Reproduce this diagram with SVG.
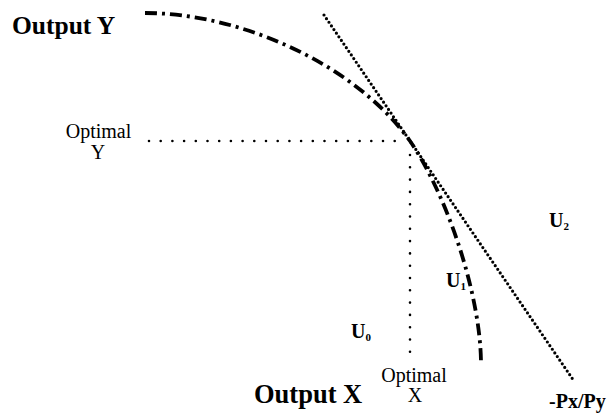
<svg xmlns="http://www.w3.org/2000/svg" width="609" height="414" viewBox="0 0 609 414">
<style>
.t{font-family:"Liberation Serif","Times New Roman",serif;fill:#000}
.b{font-weight:bold}
.curve{fill:none;stroke:#000;stroke-width:3.8;stroke-dasharray:12 5 3 5}
.budget{fill:none;stroke:#000;stroke-width:3.2;stroke-linecap:round;stroke-dasharray:0 4.4}
.guide{fill:none;stroke:#000;stroke-width:2.6;stroke-linecap:round;stroke-dasharray:0 11.7}
</style>
<rect width="609" height="414" fill="#fff"/>
<g id="connectors">
<path id="ppf" class="curve" d="M145,13 C240,13 355,64 410,141 C445,192 480,290 481,362"/>
<path id="budget-line" class="budget" d="M324,15 L574,381"/>
<path id="opt-y-line" class="guide" d="M149,141 L402,141"/>
<path id="opt-x-line" class="guide" d="M410,155 L410,357" style="stroke-dasharray:0 12.3"/>
</g>
<g id="axis-y"><text class="t b" x="12" y="34" font-size="25.5">Output Y</text></g>
<g id="axis-x"><text class="t b" x="254" y="403" font-size="26.5">Output X</text></g>
<g id="optimal-y">
<text class="t" x="98.5" y="138" font-size="20" text-anchor="middle">Optimal</text>
<text class="t" x="98" y="159" font-size="20" text-anchor="middle">Y</text>
</g>
<g id="optimal-x">
<text class="t" x="414" y="382" font-size="20" text-anchor="middle">Optimal</text>
<text class="t" x="415" y="402" font-size="20" text-anchor="middle">X</text>
</g>
<g id="u2"><text class="t b" x="549" y="227" font-size="20">U<tspan font-size="11" dy="3">2</tspan></text></g>
<g id="u1"><text class="t b" x="446" y="287" font-size="20">U<tspan font-size="11" dy="3">1</tspan></text></g>
<g id="u0"><text class="t b" x="351" y="338" font-size="20">U<tspan font-size="11" dy="3">0</tspan></text></g>
<g id="price-ratio"><text class="t b" x="549" y="408" font-size="20">-Px/Py</text></g>
</svg>
